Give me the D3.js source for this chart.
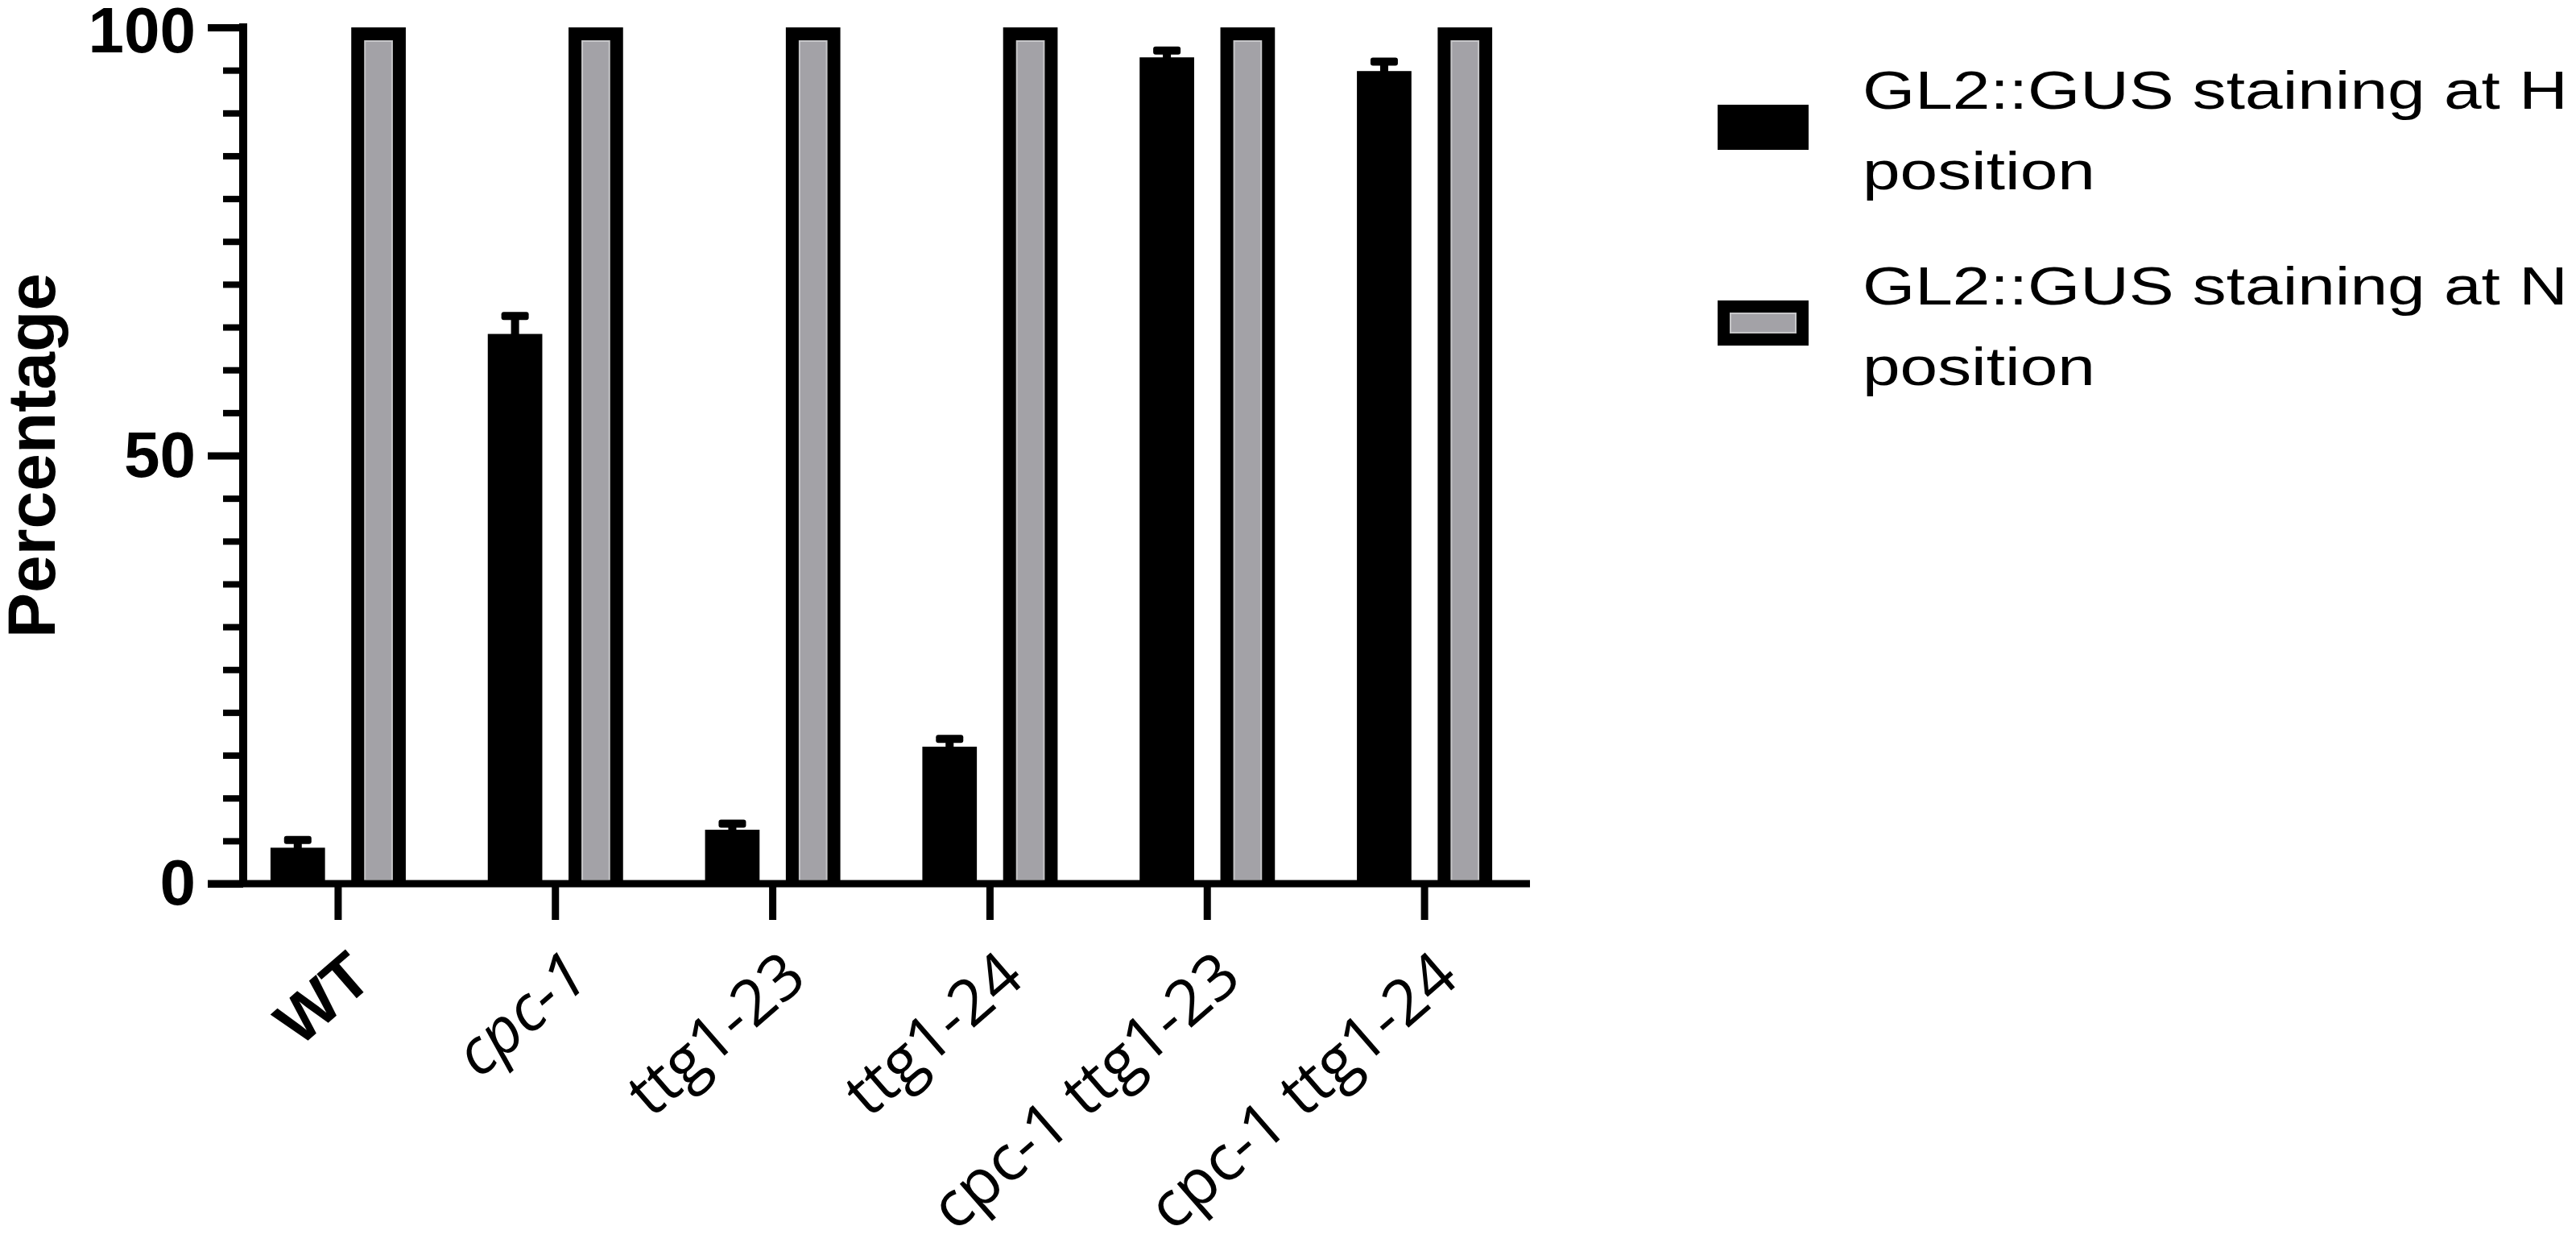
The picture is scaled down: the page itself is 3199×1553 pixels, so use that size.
<!DOCTYPE html>
<html>
<meta charset="utf-8" />
<head>
<script src="https://cdnjs.cloudflare.com/ajax/libs/d3/7.8.5/d3.min.js"></script>
<style>
  body { margin: 0; background: #fff; }
  svg { display: block; }
</style>
</head>
<body>
<script>
// data
const categories = ["WT", "cpc-1", "ttg1-23", "ttg1-24", "cpc-1 ttg1-23", "cpc-1 ttg1-24"];
const hValues = [4.2, 64.2, 6.3, 16.0, 96.5, 94.9];
const hErrors = [0.9, 2.1, 0.7, 0.9, 0.8, 1.1];
const nValues = [100, 100, 100, 100, 100, 100];
const seriesKeys = ["H", "N"];
const legendLines = [
  ["GL2::GUS staining at H", "position"],
  ["GL2::GUS staining at N", "position"],
];
const yMajorTicks = [0, 50, 100];
const yMinorTicks = [5, 10, 15, 20, 25, 30, 35, 40, 45, 55, 60, 65, 70, 75, 80, 85, 90, 95];

const W = 3199, H = 1553;
const axisX = 302;

const svg = d3.select("body").append("svg")
  .attr("width", W)
  .attr("height", H)
  .style("background", "#fff");

const x = d3.scaleBand().domain(categories).range([285, 1904]);
const sub = d3.scaleBand().domain(seriesKeys).range([-84, 84]).paddingInner(0.325);
const y = d3.scaleLinear().domain([0, 100]).range([1097, 34]);
const cx = (c) => x(c) + x.bandwidth() / 2;

// y axis minor ticks
svg.append("g")
  .attr("transform", `translate(${axisX},0)`)
  .call(d3.axisLeft(y).tickValues(yMinorTicks).tickSize(25).tickFormat(""))
  .call(g => g.select(".domain").remove())
  .call(g => g.selectAll("line").attr("stroke", "#000").attr("stroke-width", 8));

// y axis major ticks + labels
svg.append("g")
  .attr("transform", `translate(${axisX},0)`)
  .call(d3.axisLeft(y).tickValues(yMajorTicks).tickSize(44).tickPadding(15))
  .call(g => g.select(".domain").remove())
  .call(g => g.selectAll("line").attr("stroke", "#000").attr("stroke-width", 9))
  .call(g => g.selectAll("text")
    .attr("fill", "#000")
    .attr("dy", (d) => d === 100 ? "0.38em" : "0.32em")
    .style("font-family", "'Liberation Sans', Arial, sans-serif")
    .style("font-weight", "bold")
    .style("font-size", "80px"));

// x axis ticks
svg.append("g")
  .attr("transform", `translate(0,${y(0)})`)
  .call(d3.axisBottom(x).tickSize(45).tickFormat(""))
  .call(g => g.select(".domain").remove())
  .call(g => g.selectAll("line").attr("stroke", "#000").attr("stroke-width", 9));

// bars
const groups = svg.append("g").selectAll("g")
  .data(categories)
  .join("g")
  .attr("transform", d => `translate(${cx(d)},0)`);

const bw = sub.bandwidth();
const border = 17;

// black bars (H position)
groups.append("rect")
  .attr("x", sub("H"))
  .attr("width", bw)
  .attr("y", (d, i) => y(hValues[i]))
  .attr("height", (d, i) => y(0) - y(hValues[i]))
  .attr("fill", "#000");

// error bars
groups.append("rect")
  .attr("x", sub("H") + bw / 2 - 5)
  .attr("width", 10)
  .attr("y", (d, i) => y(hValues[i] + hErrors[i]))
  .attr("height", (d, i) => y(hValues[i]) - y(hValues[i] + hErrors[i]) + 2)
  .attr("fill", "#000");
groups.append("rect")
  .attr("x", sub("H") + bw / 2 - 17)
  .attr("width", 34)
  .attr("y", (d, i) => y(hValues[i] + hErrors[i]) - 5)
  .attr("height", 10)
  .attr("rx", 3)
  .attr("fill", "#000");

// grey bars with thick black frame (N position)
groups.append("rect")
  .attr("x", sub("N"))
  .attr("width", bw)
  .attr("y", (d, i) => y(nValues[i]))
  .attr("height", (d, i) => y(0) - y(nValues[i]))
  .attr("fill", "#000");
groups.append("rect")
  .attr("x", sub("N") + border)
  .attr("width", bw - 2 * border)
  .attr("y", (d, i) => y(nValues[i]) + border)
  .attr("height", (d, i) => y(0) - y(nValues[i]) - border - 4)
  .attr("fill", "#a3a2a7")
  .attr("stroke", "#c6c6c8")
  .attr("stroke-width", 2);

// axis lines
svg.append("line")
  .attr("x1", axisX).attr("x2", axisX)
  .attr("y1", y(100) - 5).attr("y2", y(0) + 4)
  .attr("stroke", "#000").attr("stroke-width", 10);
svg.append("line")
  .attr("x1", 258).attr("x2", 1900)
  .attr("y1", y(0)).attr("y2", y(0))
  .attr("stroke", "#000").attr("stroke-width", 9);

// category labels
svg.append("g").selectAll("text")
  .data(categories)
  .join("text")
  .attr("transform", d => `translate(${cx(d) + 8},1176) rotate(-41)`)
  .attr("text-anchor", "end")
  .attr("dy", "0.72em")
  .attr("fill", "#000")
  .style("font-family", d => d === "WT" ? "'Liberation Sans', Arial, sans-serif" : "'Open Sans', sans-serif")
  .style("font-weight", d => d === "WT" ? "bold" : "normal")
  .style("font-style", d => d === "cpc-1" ? "italic" : "normal")
  .style("font-size", d => d === "WT" ? "80px" : "79px")
  .text(d => d);

// y axis title
svg.append("text")
  .attr("transform", `translate(68,${(y(0) + y(100)) / 2}) rotate(-90)`)
  .attr("text-anchor", "middle")
  .attr("fill", "#000")
  .style("font-family", "'Liberation Sans', Arial, sans-serif")
  .style("font-weight", "bold")
  .style("font-size", "84px")
  .text("Percentage");

// legend
const legend = svg.append("g").selectAll("g")
  .data(seriesKeys)
  .join("g")
  .attr("transform", (d, i) => `translate(2133,${130 + i * 243})`);

legend.append("rect")
  .attr("width", 113).attr("height", 56)
  .attr("fill", "#000");
legend.filter(d => d === "N").append("rect")
  .attr("x", 16).attr("y", 16)
  .attr("width", 81).attr("height", 24)
  .attr("fill", "#a3a2a7")
  .attr("stroke", "#c6c6c8")
  .attr("stroke-width", 2);

legend.each(function (d, i) {
  const t = d3.select(this).append("text")
    .attr("transform", "translate(180,5) scale(1.27,1)")
    .attr("fill", "#000")
    .style("font-family", "'Liberation Sans', Arial, sans-serif")
    .style("font-size", "66px");
  legendLines[i].forEach((line, k) => {
    t.append("tspan").attr("x", 0).attr("y", k * 100).text(line);
  });
});
</script>
</body>
</html>
